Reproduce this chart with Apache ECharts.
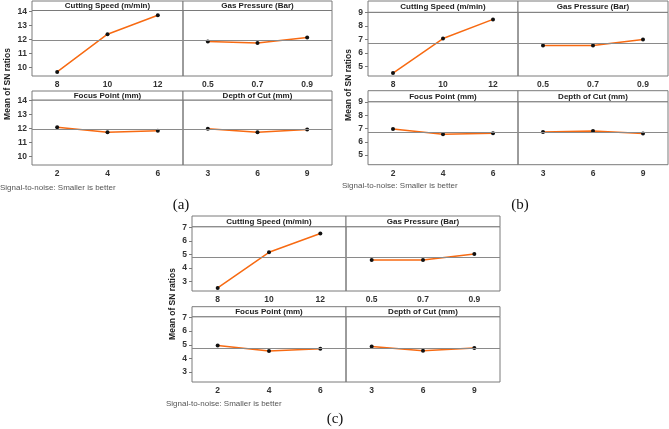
<!DOCTYPE html>
<html>
<head>
<meta charset="utf-8">
<script src="https://cdn.jsdelivr.net/npm/echarts@6/dist/echarts.min.js"></script>
<style>
html, body { margin: 0; padding: 0; background: #fff; }
#main { width: 669px; height: 429px; }
</style>
</head>
<body>
<div id="main"></div>
<script>
// factor levels (x categories)
var speedLevels = ['8', '10', '12'];
var pressureLevels = ['0.5', '0.7', '0.9'];
var focusLevels = ['2', '4', '6'];
var depthLevels = ['3', '6', '9'];
var factorNames = ['Cutting Speed (m/min)', 'Gas Pressure (Bar)', 'Focus Point (mm)', 'Depth of Cut (mm)'];

// mean of SN ratios - panel (a)
var speedA = [9.67, 12.36, 13.71];
var pressureA = [11.84, 11.74, 12.12];
var focusA = [12.09, 11.74, 11.84];
var depthA = [11.98, 11.74, 11.93];
var meanA = 11.93;
var ticksA = [10, 11, 12, 13, 14];

// panel (b)
var speedB = [4.49, 7.07, 8.50];
var pressureB = [6.55, 6.55, 7.00];
var focusB = [6.97, 6.57, 6.65];
var depthB = [6.74, 6.82, 6.62];
var meanB = 6.72;
var ticksB = [5, 6, 7, 8, 9];

// panel (c)
var speedC = [2.51, 5.15, 6.54];
var pressureC = [4.58, 4.58, 5.02];
var focusC = [4.94, 4.55, 4.70];
var depthC = [4.87, 4.57, 4.77];
var meanC = 4.76;
var ticksC = [3, 4, 5, 6, 7];

var levels = [speedLevels, pressureLevels, focusLevels, depthLevels];

// layout of the three panels (pixels)
var panels = [
    { tag: '(a)', values: [speedA, pressureA, focusA, depthA], mean: meanA, ticks: ticksA,
      yMin: 9.38, yMax: 14.05,
      left: 32, mid: 183, right: 332, rows: [[1, 10.5, 76], [91, 100, 165]],
      yName: [8, 84], note: [0, 187.5], tagPos: [181, 205] },
    { tag: '(b)', values: [speedB, pressureB, focusB, depthB], mean: meanB, ticks: ticksB,
      yMin: 4.27, yMax: 9.03,
      left: 368, mid: 518, right: 668, rows: [[1, 12.3, 76], [90.7, 101.7, 164.7]],
      yName: [349, 85], note: [342, 186], tagPos: [520, 205] },
    { tag: '(c)', values: [speedC, pressureC, focusC, depthC], mean: meanC, ticks: ticksC,
      yMin: 2.28, yMax: 7.05,
      left: 192, mid: 346, right: 500, rows: [[216, 226.7, 291], [306.7, 316.7, 382]],
      yName: [173, 304], note: [166, 403.5], tagPos: [335, 419] }
];

var FONT = '"Liberation Sans", Arial, sans-serif';
var BORDER = '#7a7a7a';

var grids = [], xAxes = [], yAxes = [], series = [], graphics = [];

panels.forEach(function (p) {
    for (var k = 0; k < 4; k++) {
        var row = p.rows[Math.floor(k / 2)];
        var col = k % 2;
        var x0 = col === 0 ? p.left : p.mid;
        var x1 = col === 0 ? p.mid : p.right;
        var idx = grids.length;

        grids.push({
            left: x0, top: row[1], width: x1 - x0, height: row[2] - row[1],
            show: true, borderColor: BORDER, borderWidth: 1,
            outerBoundsMode: 'none'
        });
        xAxes.push({
            type: 'category', gridIndex: idx, data: levels[k], boundaryGap: true,
            axisLine: { show: false },
            axisTick: { alignWithLabel: true, length: 3, lineStyle: { color: BORDER } },
            axisLabel: { interval: 0, margin: 4, fontSize: 8.5, fontWeight: 'bold', color: '#333', fontFamily: FONT }
        });
        yAxes.push({
            type: 'value', gridIndex: idx, min: p.yMin, max: p.yMax,
            splitLine: { show: false },
            axisLine: { show: false },
            axisTick: { show: col === 0, length: 3, customValues: p.ticks, lineStyle: { color: BORDER } },
            axisLabel: { show: col === 0, customValues: p.ticks, margin: 5, fontSize: 8.5, fontWeight: 'bold', color: '#333', fontFamily: FONT }
        });
        series.push({
            type: 'line', xAxisIndex: idx, yAxisIndex: idx, data: p.values[k],
            symbol: 'circle', symbolSize: 4,
            itemStyle: { color: '#111' },
            lineStyle: { color: '#f76a12', width: 1.5 },
            markLine: {
                silent: true, symbol: ['none', 'none'], label: { show: false },
                lineStyle: { color: '#8a8a8a', type: 'solid', width: 1 },
                data: [{ yAxis: p.mean }]
            }
        });

        // header strip
        graphics.push({
            type: 'rect', z: 10,
            shape: { x: x0, y: row[0], width: x1 - x0, height: row[1] - row[0] },
            style: { fill: '#fff', stroke: BORDER, lineWidth: 1 }
        });
        graphics.push({
            type: 'text', z: 11, x: (x0 + x1) / 2, y: (row[0] + row[1]) / 2 + 0.5,
            style: { text: factorNames[k], font: 'bold 8px ' + FONT, fill: '#222', textAlign: 'center', textVerticalAlign: 'middle' }
        });
    }

    graphics.push({
        type: 'text', x: p.yName[0], y: p.yName[1], rotation: Math.PI / 2,
        style: { text: 'Mean of SN ratios', font: 'bold 8.5px ' + FONT, fill: '#222', textAlign: 'center', textVerticalAlign: 'middle' }
    });
    graphics.push({
        type: 'text', x: p.note[0], y: p.note[1],
        style: { text: 'Signal-to-noise: Smaller is better', font: '8px ' + FONT, fill: '#555', textAlign: 'left', textVerticalAlign: 'middle' }
    });
    graphics.push({
        type: 'text', x: p.tagPos[0], y: p.tagPos[1],
        style: { text: p.tag, font: '15px "Liberation Serif", "Times New Roman", serif', fill: '#111', textAlign: 'center', textVerticalAlign: 'middle' }
    });
});

var myChart = echarts.init(document.getElementById('main'));
myChart.setOption({
    animation: false,
    backgroundColor: '#fff',
    grid: grids,
    xAxis: xAxes,
    yAxis: yAxes,
    series: series,
    graphic: graphics
});
</script>
</body>
</html>
